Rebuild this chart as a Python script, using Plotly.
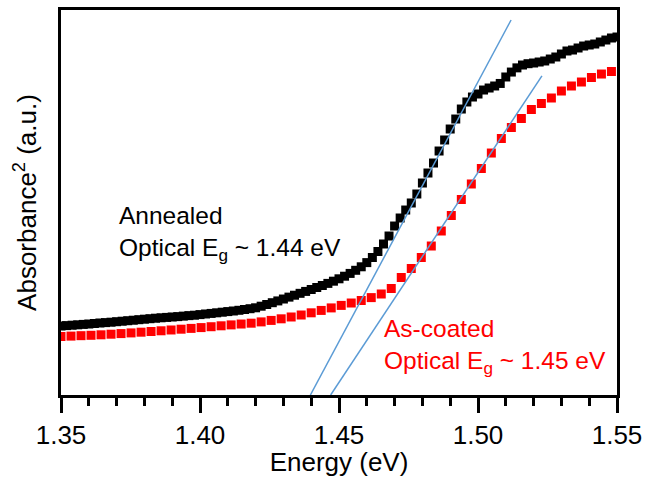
import plotly.graph_objects as go

# ---- data ----
annealed_energy = [
    1.350, 1.352, 1.354, 1.356, 1.358, 1.360, 1.362, 1.364, 1.366, 1.368,
    1.370, 1.372, 1.374, 1.376, 1.378, 1.380, 1.382, 1.384, 1.386, 1.388,
    1.390, 1.392, 1.394, 1.396, 1.398, 1.400, 1.402, 1.404, 1.406, 1.408,
    1.410, 1.412, 1.414, 1.416, 1.418, 1.420, 1.422, 1.424, 1.426, 1.428,
    1.430, 1.432, 1.434, 1.436, 1.438, 1.440, 1.442, 1.444, 1.446, 1.448,
    1.450, 1.452, 1.454, 1.456, 1.458, 1.460, 1.462, 1.464, 1.466, 1.468,
    1.470, 1.472, 1.474, 1.476, 1.478, 1.480, 1.482, 1.484, 1.486, 1.488,
    1.490, 1.492, 1.494, 1.496, 1.498, 1.500, 1.502, 1.504, 1.506, 1.508,
    1.510, 1.512, 1.514, 1.516, 1.518, 1.520, 1.522, 1.524, 1.526, 1.528,
    1.530, 1.532, 1.534, 1.536, 1.538, 1.540, 1.542, 1.544, 1.546, 1.548,
    1.550,
]
annealed_abs2 = [
    17.37, 17.47, 17.58, 17.68, 17.79, 17.89, 18.03, 18.16, 18.26, 18.37,
    18.50, 18.63, 18.76, 18.89, 19.03, 19.16, 19.29, 19.42, 19.53, 19.63,
    19.74, 19.84, 19.97, 20.10, 20.21, 20.37, 20.53, 20.68, 20.84, 21.00,
    21.16, 21.32, 21.50, 21.71, 21.92, 22.16, 22.58, 23.03, 23.50, 23.97,
    24.47, 24.97, 25.47, 25.97, 26.47, 26.97, 27.50, 28.03, 28.58, 29.16,
    29.79, 30.47, 31.21, 32.03, 32.95, 34.05, 35.39, 36.97, 38.95, 41.05,
    43.68, 45.79, 47.89, 49.74, 52.11, 55.00, 57.63, 60.26, 63.42, 66.32,
    69.21, 71.84, 74.47, 76.32, 77.63, 78.42, 79.47, 80.00, 80.53, 81.20,
    82.90, 84.20, 85.30, 86.05, 86.40, 86.58, 86.84, 87.11, 87.63, 88.16,
    88.95, 89.74, 90.00, 90.53, 91.05, 91.32, 91.58, 92.11, 92.63, 93.16,
    93.42,
]

ascoated_energy = [
    1.3500, 1.3536, 1.3572, 1.3608, 1.3644, 1.3680, 1.3716, 1.3752, 1.3788, 1.3824,
    1.3860, 1.3896, 1.3932, 1.3968, 1.4004, 1.4040, 1.4076, 1.4112, 1.4148, 1.4184,
    1.4220, 1.4256, 1.4292, 1.4328, 1.4364, 1.4400, 1.4436, 1.4472, 1.4508, 1.4544,
    1.4580, 1.4616, 1.4652, 1.4688, 1.4724, 1.4760, 1.4796, 1.4832, 1.4868, 1.4904,
    1.4940, 1.4976, 1.5012, 1.5048, 1.5084, 1.5120, 1.5156, 1.5192, 1.5228, 1.5264,
    1.5300, 1.5336, 1.5372, 1.5408, 1.5444, 1.5480,
]
ascoated_abs2 = [
    14.61, 14.71, 14.82, 14.92, 15.05, 15.21, 15.37, 15.55, 15.74, 15.92,
    16.11, 16.32, 16.53, 16.74, 16.95, 17.18, 17.42, 17.66, 17.89, 18.11,
    18.45, 18.84, 19.26, 19.74, 20.26, 20.84, 21.47, 22.13, 22.79, 23.42,
    24.08, 24.84, 25.79, 27.24, 30.13, 32.50, 35.39, 38.42, 42.37, 46.45,
    50.66, 54.74, 58.82, 62.89, 66.71, 69.61, 71.97, 74.34, 75.92, 77.37,
    79.21, 80.53, 81.58, 82.76, 83.68, 84.34,
]

# linear (Tauc-type) fits: endpoints of each drawn tangent line
annealed_fit_energy = [1.4397, 1.5119]
annealed_fit_abs2 = [-0.79, 97.9]
ascoated_fit_energy = [1.4470, 1.5230]
ascoated_fit_abs2 = [-0.79, 83.2]

x_tick_values = [1.35, 1.40, 1.45, 1.50, 1.55]
x_tick_labels = ["1.35", "1.40", "1.45", "1.50", "1.55"]

FONT = "Liberation Sans, Arial, sans-serif"
BLUE = "#5B9BD5"

fig = go.Figure()
fig.add_trace(go.Scatter(
    x=ascoated_energy, y=ascoated_abs2, mode="markers",
    marker=dict(symbol="square", size=9, color="#ff0000", line=dict(width=0)),
    showlegend=False, name="As-coated"))
fig.add_trace(go.Scatter(
    x=annealed_energy, y=annealed_abs2, mode="markers",
    marker=dict(symbol="square", size=9, color="#000000", line=dict(width=0)),
    showlegend=False, name="Annealed"))
fig.add_trace(go.Scatter(
    x=annealed_fit_energy, y=annealed_fit_abs2, mode="lines",
    line=dict(color=BLUE, width=1.5), showlegend=False, name="fit annealed"))
fig.add_trace(go.Scatter(
    x=ascoated_fit_energy, y=ascoated_fit_abs2, mode="lines",
    line=dict(color=BLUE, width=1.5), showlegend=False, name="fit as-coated"))

fig.add_annotation(
    text="Annealed<br>Optical E<sub>g</sub> ~ 1.44 eV",
    xref="paper", yref="paper", x=0.100, y=0.420,
    xanchor="left", yanchor="middle", align="left", showarrow=False,
    font=dict(family=FONT, size=24.5, color="black"))
fig.add_annotation(
    text="As-coated<br>Optical E<sub>g</sub> ~ 1.45 eV",
    xref="paper", yref="paper", x=0.577, y=0.127,
    xanchor="left", yanchor="middle", align="left", showarrow=False,
    font=dict(family=FONT, size=24.5, color="#ff0000"))

fig.update_layout(
    width=648, height=477,
    margin=dict(l=61, r=31, t=10, b=82, autoexpand=False),
    paper_bgcolor="white", plot_bgcolor="white",
    font=dict(family=FONT, size=26, color="black"),
    showlegend=False,
)
fig.update_xaxes(
    range=[1.35, 1.55], tickmode="array", tickvals=x_tick_values, ticktext=x_tick_labels,
    ticks="outside", ticklen=15, tickwidth=2.5, tickcolor="black",
    minor=dict(ticks="outside", ticklen=8, tickwidth=2.5, tickcolor="black", dtick=0.01,
               showgrid=False),
    showline=True, linewidth=3, linecolor="black", mirror=True,
    showgrid=False, zeroline=False,
    tickfont=dict(family=FONT, size=26, color="black"),
    title=dict(text="Energy (eV)", font=dict(family=FONT, size=26, color="black"), standoff=5),
)
fig.update_yaxes(
    range=[-0.79, 100.53], showticklabels=False, ticks="",
    showline=True, linewidth=3, linecolor="black", mirror=True,
    showgrid=False, zeroline=False,
    title=dict(text="Absorbance<sup>2</sup> (a.u.)", font=dict(family=FONT, size=26, color="black"),
               standoff=14),
)

fig.write_html("out.html")
